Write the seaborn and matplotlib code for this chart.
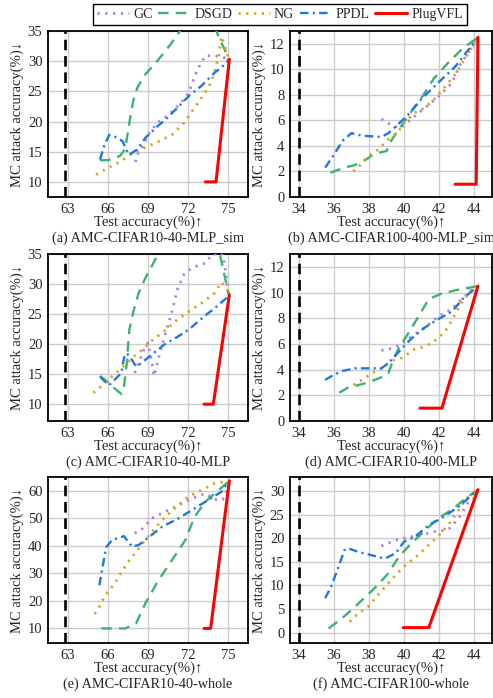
import matplotlib
matplotlib.use("Agg")
import matplotlib.pyplot as plt
from matplotlib.lines import Line2D
import seaborn as sns

# ---------------- data ----------------
# (a) AMC-CIFAR10-40-MLP_sim
A_GC_X = [68.05, 68.2, 68.6, 69.1, 69.7, 70.6, 71.2, 71.8, 72.2, 72.5, 72.9, 73.3, 74.0, 74.5, 75.0]
A_GC_Y = [13.3, 14.5, 15.9, 18.1, 19.8, 21.2, 22.5, 23.9, 25.6, 27.5, 29.4, 30.9, 30.9, 30.7, 30.4]
A_DSGD_X = [65.4, 66.0, 66.9, 67.3, 67.6, 67.9, 68.2, 68.8, 69.8, 70.7, 71.4, 72.5, 73.8, 74.3, 75.1]
A_DSGD_Y = [13.6, 13.6, 14.3, 15.5, 19.8, 23.5, 25.6, 27.8, 30.3, 32.8, 35.0, 38.0, 37.0, 34.0, 30.3]
A_NG_X = [65.1, 65.6, 66.25, 66.95, 67.85, 68.7, 69.8, 70.8, 71.7, 72.3, 73.2, 73.7, 74.0, 74.3, 74.5, 74.75, 75.05]
A_NG_Y = [11.2, 11.8, 12.6, 13.4, 14.8, 15.6, 16.7, 17.8, 19.8, 21.7, 24.5, 26.4, 28.3, 30.8, 34.1, 32.5, 30.4]
A_PPDL_X = [65.4, 65.75, 66.1, 66.75, 67.1, 67.35, 67.6, 68.2, 68.8, 69.6, 70.3, 71.3, 72.05, 73.0, 74.0, 74.9, 75.05]
A_PPDL_Y = [13.7, 16.2, 17.8, 17.3, 16.7, 15.4, 14.5, 15.4, 17.3, 19.0, 20.3, 22.5, 24.2, 25.9, 28.1, 29.7, 30.4]
A_PLUG_X = [73.3, 74.1, 75.1]
A_PLUG_Y = [10.0, 10.0, 30.3]

# (b) AMC-CIFAR100-400-MLP_sim
B_GC_X = [38.7, 39.3, 39.8, 40.4, 41.2, 41.9, 42.7, 43.2, 43.8, 44.2]
B_GC_Y = [6.1, 5.6, 5.4, 6.1, 7.0, 7.8, 8.9, 10.4, 11.6, 12.5]
B_DSGD_X = [35.8, 36.2, 36.6, 37.2, 37.8, 38.3, 39.0, 39.3, 39.7, 40.2, 41.0, 41.7, 42.5, 43.3, 44.2]
B_DSGD_Y = [1.9, 2.1, 2.3, 2.5, 2.9, 3.4, 3.6, 4.5, 5.3, 6.3, 7.8, 9.3, 10.5, 11.6, 12.5]
B_NG_X = [37.1, 37.5, 37.95, 38.5, 39.1, 39.6, 40.0, 40.6, 41.2, 41.8, 42.3, 42.9, 43.4, 44.2]
B_NG_Y = [2.0, 2.5, 3.2, 3.7, 4.5, 5.0, 5.8, 6.6, 7.0, 7.8, 8.6, 9.6, 10.7, 12.5]
B_PPDL_X = [35.5, 35.9, 36.5, 37.0, 37.6, 38.7, 39.1, 39.5, 40.2, 41.0, 41.9, 42.9, 44.2]
B_PPDL_Y = [2.3, 3.1, 4.4, 5.0, 4.8, 4.7, 5.0, 5.5, 6.4, 7.7, 8.9, 10.2, 12.5]
B_PLUG_X = [42.9, 44.1, 44.2]
B_PLUG_Y = [1.0, 1.0, 12.5]

# (c) AMC-CIFAR10-40-MLP
C_GC_X = [68.0, 68.35, 68.7, 69.0, 69.3, 69.45, 69.7, 69.95, 70.4, 70.8, 71.2, 71.7, 72.3, 73.3, 73.8, 74.5, 74.65, 74.8, 75.05]
C_GC_Y = [15.2, 17.1, 19.1, 20.2, 16.8, 14.7, 16.8, 19.1, 22.4, 25.4, 29.1, 31.6, 32.7, 33.5, 34.9, 35.2, 34.6, 32.4, 28.2]
C_DSGD_X = [65.4, 65.8, 66.5, 67.0, 67.2, 67.4, 67.6, 67.9, 68.3, 68.8, 69.6, 70.4, 72.0, 74.0, 74.4, 74.7, 75.05]
C_DSGD_Y = [14.7, 14.0, 12.6, 11.7, 13.0, 16.6, 22.4, 25.4, 28.5, 31.0, 34.3, 38.0, 40.0, 37.0, 34.9, 31.8, 28.3]
C_NG_X = [64.9, 65.4, 66.25, 67.1, 67.85, 68.5, 69.3, 70.3, 71.2, 72.05, 73.0, 74.0, 74.5, 74.9, 75.05]
C_NG_Y = [11.9, 12.8, 14.5, 16.2, 17.8, 18.9, 20.6, 22.3, 24.1, 25.4, 26.8, 28.5, 30.3, 29.3, 28.3]
C_PPDL_X = [65.4, 65.75, 66.1, 66.6, 67.0, 67.2, 67.4, 67.7, 68.1, 68.35, 69.2, 70.2, 71.2, 72.05, 73.2, 73.9, 74.9, 75.05]
C_PPDL_Y = [14.6, 13.8, 13.2, 14.3, 15.2, 17.7, 18.5, 17.7, 16.3, 16.6, 18.1, 19.9, 21.2, 22.4, 24.6, 25.8, 27.7, 28.2]
C_PLUG_X = [73.2, 73.9, 75.1]
C_PLUG_Y = [10.0, 10.0, 28.2]

# (d) AMC-CIFAR10-400-MLP
D_GC_X = [38.7, 39.3, 39.85, 40.6, 41.3, 41.9, 42.7, 43.2, 44.0, 44.2]
D_GC_Y = [5.5, 5.65, 6.0, 6.75, 7.4, 8.1, 8.7, 9.4, 10.3, 10.5]
D_DSGD_X = [36.3, 36.8, 37.4, 37.95, 38.7, 39.1, 39.3, 39.7, 40.2, 40.8, 41.4, 42.1, 43.0, 44.2]
D_DSGD_Y = [2.2, 2.6, 2.8, 3.0, 3.4, 3.7, 4.5, 5.7, 6.75, 8.1, 9.5, 9.9, 10.2, 10.5]
D_NG_X = [37.1, 37.6, 38.15, 38.7, 39.3, 39.85, 40.6, 41.2, 41.7, 42.3, 42.7, 43.2, 43.8, 44.2]
D_NG_Y = [2.8, 3.2, 3.7, 4.1, 4.7, 4.9, 5.6, 5.8, 6.2, 6.9, 7.8, 9.1, 10.2, 10.5]
D_PPDL_X = [35.5, 36.0, 36.5, 37.2, 38.15, 38.7, 39.1, 39.7, 40.4, 41.2, 41.9, 42.7, 43.4, 44.2]
D_PPDL_Y = [3.2, 3.6, 3.9, 4.1, 4.1, 4.1, 4.5, 5.4, 6.4, 7.3, 7.9, 8.5, 9.6, 10.5]
D_PLUG_X = [40.9, 42.15, 44.2]
D_PLUG_Y = [1.0, 1.0, 10.5]

# (e) AMC-CIFAR10-40-whole
E_GC_X = [68.0, 68.6, 69.3, 70.3, 71.3, 72.3, 73.3, 74.0, 74.6, 74.9, 75.1]
E_GC_Y = [44.5, 46.3, 50.0, 52.4, 54.8, 57.2, 59.0, 56.8, 56.8, 60.0, 63.6]
E_DSGD_X = [65.5, 67.3, 68.1, 68.8, 69.8, 70.8, 71.8, 72.5, 73.3, 74.0, 75.1]
E_DSGD_Y = [10.0, 10.0, 11.8, 19.1, 27.6, 34.8, 42.1, 50.6, 56.0, 59.0, 63.6]
E_NG_X = [65.0, 65.35, 65.8, 66.5, 67.1, 67.8, 68.6, 69.3, 70.05, 71.0, 72.0, 73.0, 74.0, 75.1]
E_NG_Y = [15.2, 17.9, 22.1, 26.3, 31.2, 36.0, 40.9, 45.1, 49.3, 53.6, 57.8, 60.2, 62.7, 63.6]
E_PPDL_X = [65.35, 65.6, 65.85, 66.3, 67.2, 67.8, 68.3, 69.1, 70.05, 71.3, 72.3, 73.5, 74.5, 75.1]
E_PPDL_Y = [25.7, 32.4, 39.4, 42.1, 43.5, 39.7, 40.3, 43.3, 46.9, 50.0, 53.0, 56.6, 59.6, 63.6]
E_PLUG_X = [73.2, 73.7, 75.1]
E_PLUG_Y = [10.0, 10.0, 63.6]

# (f) AMC-CIFAR100-whole
F_GC_X = [38.7, 39.5, 40.2, 41.0, 41.7, 42.5, 43.1, 43.6, 44.0, 44.2]
F_GC_Y = [18.35, 19.6, 20.2, 20.7, 21.4, 21.8, 24.2, 27.4, 28.5, 30.3]
F_DSGD_X = [35.7, 36.45, 37.0, 37.8, 38.5, 39.1, 39.7, 40.4, 41.2, 41.9, 42.7, 43.4, 44.2]
F_DSGD_Y = [0.9, 3.0, 4.8, 7.6, 10.1, 12.6, 16.1, 18.9, 21.7, 24.2, 26.0, 28.2, 30.3]
F_NG_X = [36.9, 37.4, 37.95, 38.5, 39.1, 39.7, 40.2, 40.8, 41.4, 41.9, 42.5, 43.1, 43.5, 44.0, 44.2]
F_NG_Y = [2.3, 4.1, 5.5, 8.0, 10.5, 12.9, 14.7, 16.4, 18.6, 20.3, 22.8, 26.0, 28.4, 29.5, 30.3]
F_PPDL_X = [35.5, 35.8, 36.2, 36.6, 36.8, 37.4, 38.15, 38.9, 39.5, 40.0, 40.6, 41.4, 42.1, 43.1, 44.2]
F_PPDL_Y = [7.3, 9.4, 13.3, 17.5, 17.9, 17.1, 16.4, 15.7, 16.8, 19.3, 20.3, 22.8, 24.2, 26.7, 30.3]
F_PLUG_X = [39.95, 41.4, 44.2]
F_PLUG_Y = [1.06, 1.06, 30.3]

METHODS = ["GC", "DSGD", "NG", "PPDL", "PlugVFL"]
CAPTIONS = ["(a) AMC-CIFAR10-40-MLP_sim", "(b) AMC-CIFAR100-400-MLP_sim",
            "(c) AMC-CIFAR10-40-MLP", "(d) AMC-CIFAR10-400-MLP",
            "(e) AMC-CIFAR10-40-whole", "(f) AMC-CIFAR100-whole"]
LEFT_XTICKS = [63, 66, 69, 72, 75]
RIGHT_XTICKS = [34, 36, 38, 40, 42, 44]
BASELINE_LEFT = 62.8
BASELINE_RIGHT = 34.0

# ---------------- style ----------------
sns.set_style("whitegrid", {"grid.color": "#cccccc", "axes.edgecolor": "black"})
plt.rcParams["font.family"] = ["Liberation Serif", "DejaVu Sans"]
plt.rcParams["font.size"] = 10

STYLES = {
    "GC": dict(color="#b07fe6", linestyle=(0, (0.8, 2.0)), linewidth=2.0),
    "DSGD": dict(color="#3cb371", linestyle=(0, (4.5, 3.0)), linewidth=1.7),
    "NG": dict(color="#d9a521", linestyle=(0, (0.8, 2.0)), linewidth=2.0),
    "PPDL": dict(color="#1f78e0", linestyle=(0, (3.6, 1.8, 0.9, 1.8)), linewidth=1.7),
    "PlugVFL": dict(color="#ff0000", linestyle="-", linewidth=2.2),
}

panels = [
    dict(series=[(A_GC_X, A_GC_Y), (A_DSGD_X, A_DSGD_Y), (A_NG_X, A_NG_Y), (A_PPDL_X, A_PPDL_Y), (A_PLUG_X, A_PLUG_Y)],
         xlim=(61.5, 76.5), ylim=(7.5, 35), xticks=LEFT_XTICKS, yticks=[10, 15, 20, 25, 30, 35], base=BASELINE_LEFT),
    dict(series=[(B_GC_X, B_GC_Y), (B_DSGD_X, B_DSGD_Y), (B_NG_X, B_NG_Y), (B_PPDL_X, B_PPDL_Y), (B_PLUG_X, B_PLUG_Y)],
         xlim=(33.5, 45), ylim=(0, 13), xticks=RIGHT_XTICKS, yticks=[0, 2, 4, 6, 8, 10, 12], base=BASELINE_RIGHT),
    dict(series=[(C_GC_X, C_GC_Y), (C_DSGD_X, C_DSGD_Y), (C_NG_X, C_NG_Y), (C_PPDL_X, C_PPDL_Y), (C_PLUG_X, C_PLUG_Y)],
         xlim=(61.5, 76.5), ylim=(7.2, 35), xticks=LEFT_XTICKS, yticks=[10, 15, 20, 25, 30, 35], base=BASELINE_LEFT),
    dict(series=[(D_GC_X, D_GC_Y), (D_DSGD_X, D_DSGD_Y), (D_NG_X, D_NG_Y), (D_PPDL_X, D_PPDL_Y), (D_PLUG_X, D_PLUG_Y)],
         xlim=(33.5, 45), ylim=(0, 13), xticks=RIGHT_XTICKS, yticks=[0, 2, 4, 6, 8, 10, 12], base=BASELINE_RIGHT),
    dict(series=[(E_GC_X, E_GC_Y), (E_DSGD_X, E_DSGD_Y), (E_NG_X, E_NG_Y), (E_PPDL_X, E_PPDL_Y), (E_PLUG_X, E_PLUG_Y)],
         xlim=(61.5, 76.5), ylim=(4.7, 65), xticks=LEFT_XTICKS, yticks=[10, 20, 30, 40, 50, 60], base=BASELINE_LEFT),
    dict(series=[(F_GC_X, F_GC_Y), (F_DSGD_X, F_DSGD_Y), (F_NG_X, F_NG_Y), (F_PPDL_X, F_PPDL_Y), (F_PLUG_X, F_PLUG_Y)],
         xlim=(33.5, 45), ylim=(-2.2, 33), xticks=RIGHT_XTICKS, yticks=[0, 5, 10, 15, 20, 25, 30], base=BASELINE_RIGHT),
]

W, H = 493, 698
fig = plt.figure(figsize=(W / 100, H / 100), dpi=100)

# axes boxes in pixels: (left, top, right, bottom)
boxes = [(48, 31, 248, 197), (290, 31, 492, 197),
         (48, 254, 248, 421), (290, 254, 492, 421),
         (48, 477, 248, 643), (290, 477, 492, 643)]

for i, (p, box) in enumerate(zip(panels, boxes)):
    l, t, r, b = box
    ax = fig.add_axes([l / W, 1 - b / H, (r - l) / W, (b - t) / H])
    ax.axvline(p["base"], color="black", linestyle=(0, (4, 2.2)), linewidth=1.9, zorder=3)
    for name, (xs, ys) in zip(METHODS, p["series"]):
        sns.lineplot(x=xs, y=ys, ax=ax, sort=False, estimator=None, legend=False,
                     zorder=4 if name == "PlugVFL" else 3, **STYLES[name])
    ax.set_xlim(*p["xlim"])
    ax.set_ylim(*p["ylim"])
    ax.set_xticks(p["xticks"])
    ax.set_yticks(p["yticks"])
    ax.tick_params(length=0, pad=4, labelsize=10.5)
    for s in ax.spines.values():
        s.set_color("black")
        s.set_linewidth(1.3)
    ax.grid(True, color="#cccccc", linewidth=1.0)
    ax.set_xlabel("Test accuracy(%)↑", fontsize=10.5, labelpad=0)
    ax.set_ylabel("MC attack accuracy(%)↓", fontsize=10.5, labelpad=3)
    hpx = b - t
    ax.text(0.5, -41 / hpx, CAPTIONS[i], transform=ax.transAxes, ha="center", va="center", fontsize=10.3)

handles = [Line2D([0], [0], **STYLES[m]) for m in METHODS]
leg = fig.legend(handles, METHODS, loc="upper center", bbox_to_anchor=(280 / W, 1 - 4 / H), ncol=5,
                 frameon=True, fancybox=False, edgecolor="black", framealpha=1,
                 handlelength=2.3, handletextpad=0.3, columnspacing=0.4, borderpad=0.3,
                 borderaxespad=0, fontsize=10)
leg.get_frame().set_linewidth(1.0)

fig.savefig("out.png", dpi=100)
